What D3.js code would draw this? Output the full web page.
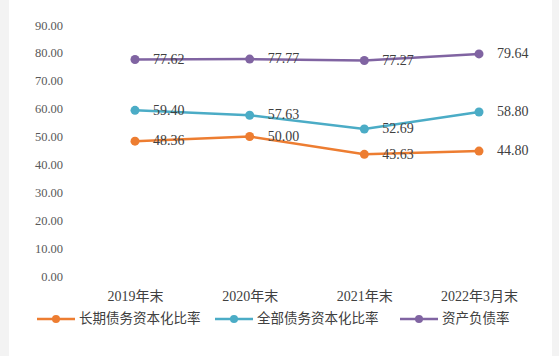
<!DOCTYPE html>
<html>
<head>
<meta charset="utf-8">
<script src="https://cdn.jsdelivr.net/npm/d3@7/dist/d3.min.js"></script>
<style>
  html, body { margin: 0; padding: 0; background: #f3f3f3; }
  svg { display: block; }
</style>
</head>
<body>
<svg id="chart" width="559" height="356"></svg>
<script>
// Debt ratios by reporting period (%)
const categories = ["2019年末", "2020年末", "2021年末", "2022年3月末"];
const longTermDebtCapRatio = [48.36, 50.00, 43.63, 44.80];
const totalDebtCapRatio = [59.40, 57.63, 52.69, 58.80];
const assetLiabilityRatio = [77.62, 77.77, 77.27, 79.64];
const seriesNames = ["长期债务资本化比率", "全部债务资本化比率", "资产负债率"];
const yTicks = [0, 10, 20, 30, 40, 50, 60, 70, 80, 90];

const series = [
  { name: seriesNames[0], values: longTermDebtCapRatio, color: "#ed7d31" },
  { name: seriesNames[1], values: totalDebtCapRatio, color: "#4bacc6" },
  { name: seriesNames[2], values: assetLiabilityRatio, color: "#8064a2" }
];

const svg = d3.select("#chart");
const W = 559, H = 356;

// white plotting card with light grey margins
svg.append("rect").attr("x", 0).attr("y", 0).attr("width", W).attr("height", H).attr("fill", "#f3f3f3");
svg.append("rect").attr("x", 9).attr("y", 0).attr("width", 543).attr("height", H).attr("fill", "#ffffff");

const x = d3.scalePoint().domain(categories).range([135, 479]);
const y = d3.scaleLinear().domain([0, 90]).range([276, 25]);

const numFont = "'Liberation Serif', 'Times New Roman', serif";
const mixedFont = "'Liberation Serif', 'Noto Sans CJK SC', serif";
const cjkFont = "'Noto Sans CJK SC', 'Liberation Serif', serif";

// y axis labels (no axis line)
const yAxis = d3.axisLeft(y).tickValues(yTicks).tickFormat(d3.format(".2f")).tickSize(0).tickPadding(0);
const gy = svg.append("g").attr("transform", "translate(63,0)").call(yAxis);
gy.select(".domain").remove();
gy.selectAll("text").attr("font-family", numFont).attr("font-size", 12.5).attr("fill", "#595959");

// x axis category labels
const xAxis = d3.axisBottom(x).tickSize(0).tickPadding(0);
const gx = svg.append("g").attr("transform", "translate(0,291)").call(xAxis);
gx.select(".domain").remove();
gx.selectAll("text").attr("font-family", mixedFont).attr("font-size", 14).attr("fill", "#404040");

const line = d3.line().x((d, i) => x(categories[i])).y(d => y(d));

series.forEach(s => {
  const g = svg.append("g");
  g.append("path").datum(s.values)
    .attr("d", line).attr("fill", "none")
    .attr("stroke", s.color).attr("stroke-width", 2.5);
  g.selectAll("circle").data(s.values).join("circle")
    .attr("cx", (d, i) => x(categories[i])).attr("cy", d => y(d))
    .attr("r", 4.5).attr("fill", s.color);
  g.selectAll("text").data(s.values).join("text")
    .attr("x", (d, i) => x(categories[i]) + 18).attr("y", d => y(d) + 1)
    .attr("dominant-baseline", "middle")
    .attr("font-family", numFont).attr("font-size", 14).attr("fill", "#404040")
    .text(d => d3.format(".2f")(d));
});

// legend
const legendX = [37, 215, 400];
const legend = svg.append("g").attr("transform", "translate(0,319)");
series.forEach((s, i) => {
  const lg = legend.append("g").attr("transform", `translate(${legendX[i]},0)`);
  lg.append("line").attr("x1", 0).attr("x2", 38).attr("y1", 0).attr("y2", 0)
    .attr("stroke", s.color).attr("stroke-width", 2.5);
  lg.append("circle").attr("cx", 19).attr("cy", 0).attr("r", 4).attr("fill", s.color);
  lg.append("text").attr("x", 42).attr("y", 0).attr("dominant-baseline", "middle")
    .attr("font-family", cjkFont).attr("font-size", 13.5).attr("fill", "#404040")
    .text(s.name);
});
</script>
</body>
</html>
